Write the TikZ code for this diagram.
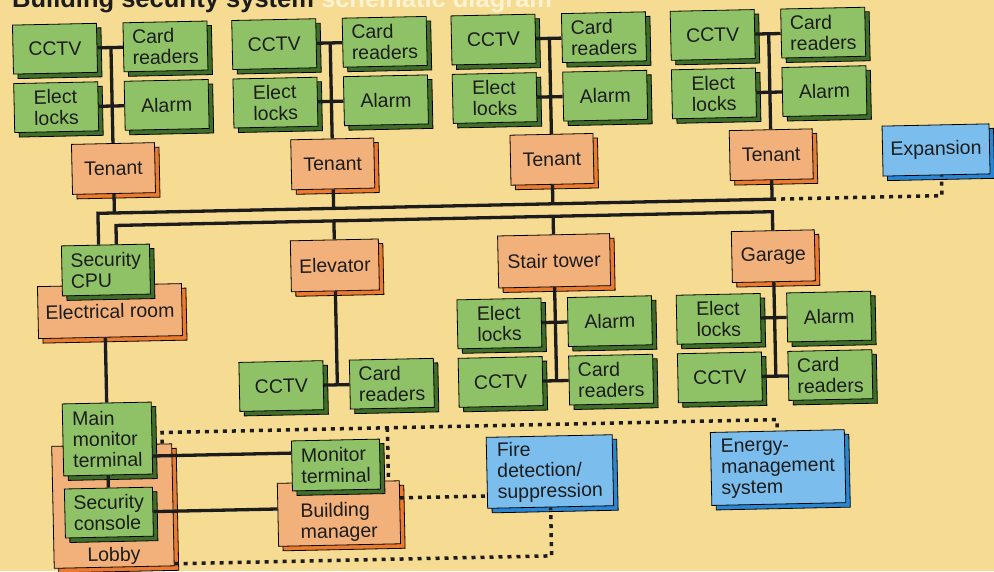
\documentclass[tikz,border=0pt]{standalone}
\usepackage{fontspec}
\setmainfont{Liberation Sans}
\usepackage{xcolor}
\usetikzlibrary{calc}
\definecolor{paper}{HTML}{F6DB93}
\definecolor{grface}{HTML}{8FC267}
\definecolor{grside}{HTML}{3F6E2B}
\definecolor{orface}{HTML}{F2B17B}
\definecolor{orside}{HTML}{EC7A30}
\definecolor{blface}{HTML}{7BBEEE}
\definecolor{blside}{HTML}{2A86D4}
\definecolor{ink}{HTML}{1C1C1C}
\definecolor{cream}{HTML}{FFF3D2}

\begin{document}
\begin{tikzpicture}[x=1pt,y=-1pt]
  \tikzset{box/.style={draw=black,line width=0.8pt,inner sep=0pt,align=left,text=ink,font=\fontsize{19.5}{21}\selectfont}}
  \tikzset{extrude/.style={preaction={fill=#1,draw=black,line width=0.8pt,transform canvas={xshift=4.5pt,yshift=-4.5pt}}}}
  \tikzset{unit/.style={box,extrude=grside,fill=grface,minimum width=84pt,minimum height=49pt}}
  \tikzset{room/.style={box,extrude=orside,fill=orface,minimum width=83pt,minimum height=51pt}}
  \tikzset{extra/.style={box,extrude=blside,fill=blface}}
  \tikzset{wire/.style={line width=3.3pt,draw=ink}}
  \tikzset{link/.style={line width=3.5pt,draw=ink,dash pattern=on 4pt off 5pt}}
  \tikzset{every label/.style={text=ink,align=left,font=\fontsize{19.5}{21}\selectfont}}
  \useasboundingbox (0,0) rectangle (994,571);
  \clip (0,0) rectangle (994,571);
  \fill[paper] (0,0) rectangle (994,571);
  \node[anchor=base west,inner sep=0pt,text=ink,font=\fontsize{25.5}{26}\selectfont\bfseries] (title) at (12,7.5) {Building security system \textcolor{cream}{schematic diagram}};
  \begin{scope}[rotate around={1.2:(497,285)},transform shape]
  \foreach \i in {0,...,3}{
    \pgfmathsetmacro\colL{60+219.3*\i}
    \pgfmathsetmacro\colM{\colL+56}
    \pgfmathsetmacro\colR{\colL+110.5}
    \node[unit] (cctv\i) at (\colL,39.5) {CCTV};
    \node[unit] (card\i) at (\colR,39.5) {Card\\readers};
    \node[unit] (lock\i) at (\colL,98) {Elect\\locks};
    \node[unit] (alarm\i) at (\colR,98) {Alarm};
    \node[room,minimum height=50pt] (tenant\i) at (\colM,160.5) {Tenant};
    \draw[wire] (cctv\i.east) -- (card\i.west);
    \draw[wire] (lock\i.east) -- (alarm\i.west);
    \draw[wire] (\colM,39.5) -- (tenant\i.north);
  }
  \node[extra,minimum width=107pt,minimum height=50pt] (expansion) at (938.8,159.2) {Expansion};

  \node[room,minimum width=144pt,minimum height=52pt] (elecroom) at (109.5,303) {Electrical room};
  \node[unit,minimum width=88pt,minimum height=50pt] (cpu) at (106.3,261.8) {Security\\CPU};
  \node[room,minimum width=88pt] (elevator) at (335.3,262) {Elevator};
  \node[room,minimum width=112pt,minimum height=52pt] (stair) at (554.6,262) {Stair tower};
  \node[room] (garage) at (773.9,262) {Garage};

  \node[unit] (cctvE) at (279.3,381.5) {CCTV};
  \node[unit] (cardE) at (389.8,381.5) {Card\\readers};
  \draw[wire] (cctvE.east) -- (cardE.west);
  \draw[wire] (elevator.south) -- (335.3,381.5);

  \foreach \i/\up in {2/stair,3/garage}{
    \pgfmathsetmacro\colL{60+219.3*\i}
    \pgfmathsetmacro\colM{\colL+56}
    \pgfmathsetmacro\colR{\colL+110.5}
    \node[unit] (flock\i) at (\colL,323.5) {Elect\\locks};
    \node[unit] (falarm\i) at (\colR,323.5) {Alarm};
    \node[unit] (fcctv\i) at (\colL,382) {CCTV};
    \node[unit] (fcard\i) at (\colR,382) {Card\\readers};
    \draw[wire] (flock\i.east) -- (falarm\i.west);
    \draw[wire] (fcctv\i.east) -- (fcard\i.west);
    \draw[wire] (\up.south) -- (\colM,382);
  }

  \coordinate (busA) at (99.5,205);
  \coordinate (busB) at (117.3,217.5);
  \draw[wire] (cpu.north -| busA) -- (busA) -- (tenant3.south |- busA) -- (tenant3.south);
  \foreach \t in {tenant0,tenant1,tenant2}
    \draw[wire] (\t.south) -- (\t.south |- busA);
  \draw[wire] (cpu.north -| busB) -- (busB) -| (garage.north);
  \foreach \t in {elevator,stair}
    \draw[wire] (\t.north) -- (\t.north |- busB);
  \draw[link] (tenant3.south |- busA) -| ([xshift=5pt]expansion.south);

  \node[room,minimum width=120pt,minimum height=122pt,label={[anchor=south,inner sep=2pt]south:Lobby}] (lobby) at (108.4,498) {};
  \node[unit,minimum width=89pt,minimum height=72pt] (mainterm) at (104.3,430.8) {Main\\monitor\\terminal};
  \node[unit,minimum width=88pt] (console) at (104.2,504.4) {Security\\console};
  \node[room,minimum width=122pt,minimum height=63pt,label={[anchor=south]south:Building\\manager}] (manager) at (334.2,510.2) {};
  \node[unit,minimum width=88pt,minimum height=50pt] (monterm) at (332.2,461.6) {Monitor\\terminal};
  \node[extra,minimum width=126pt,minimum height=71pt] (fire) at (546,472.6) {Fire\\detection/\\suppression};
  \node[extra,minimum width=134pt,minimum height=73pt] (energy) at (774.2,473.4) {Energy-\\management\\system};

  \draw[wire] (elecroom.south -| mainterm.north) -- (mainterm.north);
  \draw[wire] (mainterm.south) -- (console.north);
  \draw[wire] ([yshift=-18pt]mainterm.east) -- ([yshift=-18pt]mainterm.east -| monterm.west);
  \draw[wire] (console.east) -- (console.east -| manager.west);

  \coordinate (tapL) at (159,425.5);
  \coordinate (tapM) at (384.4,425.5);
  \draw[link] (tapL |- lobby.north) -- (tapL) -| (energy.north);
  \draw[link] (tapM) -- (tapM |- manager.north);
  \draw[link] ([yshift=14.4pt]manager.east) -- ([yshift=14.4pt]manager.east -| fire.west);
  \draw[link] ([yshift=-59pt]lobby.east) -| (fire.south);
  \end{scope}
\end{tikzpicture}
\end{document}
